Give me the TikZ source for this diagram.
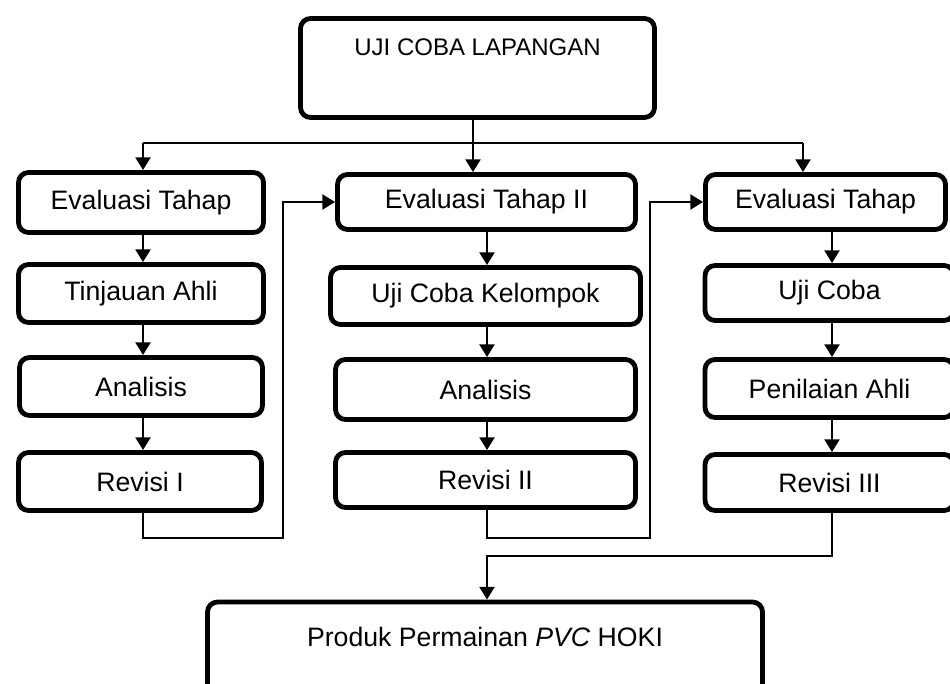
\documentclass[tikz,border=0pt]{standalone}
\usepackage{fontspec}
\setmainfont{Liberation Sans}
\usetikzlibrary{arrows.meta}
\begin{document}
\begin{tikzpicture}[x=0.75pt,y=-0.75pt,
  bx/.style 2 args={draw, line width=3.6pt, rounded corners=7.5pt,
    minimum width=#1*0.75pt, minimum height=#2*0.75pt, inner sep=0pt,
    font=\fontsize{20}{24}\selectfont},
  txt/.style={inner sep=0pt},
  conn/.style={line width=2.2pt},
  arr/.style={conn, -{Triangle[width=11pt,length=9.5pt]}},
]
\useasboundingbox (0,0) rectangle (950,684);

% boxes
\node[bx={354}{99}] (top) at (477.5,68) {};
\node[txt, font=\fontsize{18}{22}\selectfont] (toptxt) at (477.5,47) {UJI COBA LAPANGAN};

\node[bx={245}{60}] (e1) at (141,202.5) {Evaluasi Tahap};
\node[bx={245}{58}] (t1) at (141,293.5) {Tinjauan Ahli};
\node[bx={243}{58}] (a1) at (141,386.5) {Analisis};
\node[bx={243}{58}] (r1) at (140,481.5) {Revisi I};

\node[bx={298}{55}] (e2) at (486.5,202) {Evaluasi Tahap II};
\node[bx={310}{57}] (uck) at (485.5,296) {Uji Coba Kelompok};
\node[bx={300}{60}] (a2) at (485.5,389.5) {Analisis};
\node[bx={300}{55}] (r2) at (485.5,480) {Revisi II};

\node[bx={240}{55}] (e3) at (825.5,202) {Evaluasi Tahap};
\node[bx={249}{55}] (uc3) at (829.5,293) {Uji Coba};
\node[bx={249}{58}] (p3) at (829.5,388.5) {Penilaian Ahli};
\node[bx={249}{56}] (r3) at (829.5,482.5) {Revisi III};

\node[bx={555}{96}] (fin) at (485,650) {};
\node[txt, font=\fontsize{20}{24}\selectfont] (fintxt) at (485,637) {Produk Permainan \textit{PVC} HOKI};

% helper coordinates
\coordinate (ax0) at (473,0);
\coordinate (ax1) at (143,0);
\coordinate (ax2) at (487,0);
\coordinate (ax3) at (832,0);
\coordinate (bl) at (143,143);
\coordinate (br) at (803,143);
\coordinate (k1) at (283,538);
\coordinate (k2) at (650,538);
\coordinate (k3) at (487,556);

% connectors
\draw[arr] (top.south -| ax0) -- (e2.north -| ax0);
\draw[conn] (bl) -- (br);
\draw[arr] (bl) -- (e1.north -| bl);
\draw[arr] (br) -- (e3.north -| br);

\draw[arr] (e1.south -| ax1) -- (t1.north -| ax1);
\draw[arr] (t1.south -| ax1) -- (a1.north -| ax1);
\draw[arr] (a1.south -| ax1) -- (r1.north -| ax1);

\draw[arr] (e2.south -| ax2) -- (uck.north -| ax2);
\draw[arr] (uck.south -| ax2) -- (a2.north -| ax2);
\draw[arr] (a2.south -| ax2) -- (r2.north -| ax2);

\draw[arr] (e3.south -| ax3) -- (uc3.north -| ax3);
\draw[arr] (uc3.south -| ax3) -- (p3.north -| ax3);
\draw[arr] (p3.south -| ax3) -- (r3.north -| ax3);

\draw[arr] (r1.south -| ax1) |- (k1) |- (e2.west);
\draw[arr] (r2.south -| ax2) |- (k2) |- (e3.west);
\draw[arr] (r3.south -| ax3) |- (k3) -- (fin.north -| k3);
\end{tikzpicture}
\end{document}
